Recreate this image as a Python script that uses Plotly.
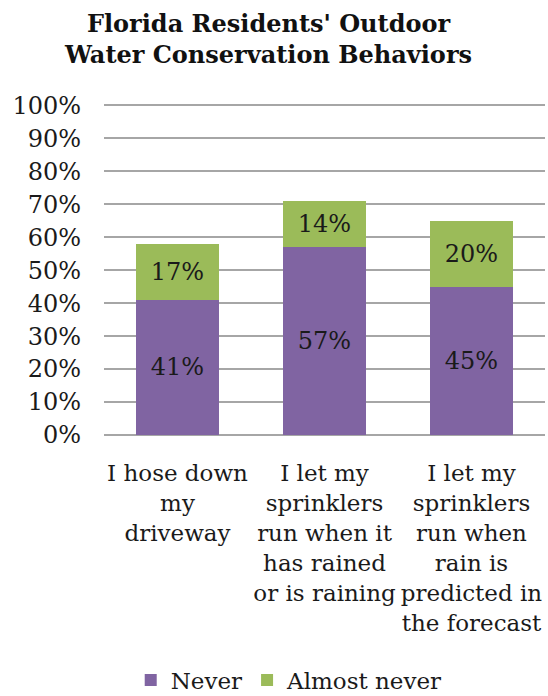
import plotly.graph_objects as go

categories = [
    "I hose down<br>my<br>driveway",
    "I let my<br>sprinklers<br>run when it<br>has rained<br>or is raining",
    "I let my<br>sprinklers<br>run when<br>rain is<br>predicted in<br>the forecast",
]
never = [41, 57, 45]
almost_never = [17, 14, 20]
tick_vals = [0, 10, 20, 30, 40, 50, 60, 70, 80, 90, 100]
tick_text = [f"{v}%" for v in tick_vals]

FONT = "DejaVu Serif"

fig = go.Figure()
fig.add_trace(go.Bar(
    x=categories, y=never, name="Never",
    marker=dict(color="#8064A2", line=dict(width=0)),
    text=[f"{v}%" for v in never], textposition="inside",
    insidetextanchor="middle",
    textfont=dict(family=FONT, size=24, color="#1a1a1a"),
))
fig.add_trace(go.Bar(
    x=categories, y=almost_never, name="Almost never",
    marker=dict(color="#9BBB59", line=dict(width=0)),
    text=[f"{v}%" for v in almost_never], textposition="inside",
    insidetextanchor="middle",
    textfont=dict(family=FONT, size=24, color="#1a1a1a"),
))

fig.update_layout(
    barmode="stack",
    bargap=0.44,
    width=548, height=696,
    margin=dict(l=104, r=3, t=104, b=261, autoexpand=False),
    paper_bgcolor="white", plot_bgcolor="white",
    font=dict(family=FONT, size=23, color="#1a1a1a"),
    title=dict(
        text="<b>Florida Residents' Outdoor<br>Water Conservation Behaviors</b>",
        x=0.49, xanchor="center", y=0.954, yanchor="middle",
        font=dict(family=FONT, size=24, color="#111111"),
    ),
    showlegend=True,
    legend=dict(
        orientation="h", x=0.42, xanchor="center", y=-0.74, yanchor="middle",
        font=dict(family=FONT, size=23, color="#1a1a1a"),
        itemsizing="constant", traceorder="normal", itemwidth=30,
    ),
    uniformtext=dict(minsize=10, mode="show"),
)
fig.update_yaxes(
    range=[0, 100.4], tickvals=tick_vals, ticktext=tick_text,
    showgrid=True, gridcolor="#A6A6A6", gridwidth=1.5,
    zeroline=True, zerolinecolor="#A6A6A6", zerolinewidth=1.5,
    showline=False, ticks="", ticklabelstandoff=22, automargin=False,
    tickfont=dict(family=FONT, size=24, color="#1a1a1a"),
)
fig.update_xaxes(
    showline=False, ticks="", tickangle=0, ticklabelstandoff=22,
    automargin=False,
    tickfont=dict(family=FONT, size=23, color="#1a1a1a"),
)

fig.write_html("out.html")
